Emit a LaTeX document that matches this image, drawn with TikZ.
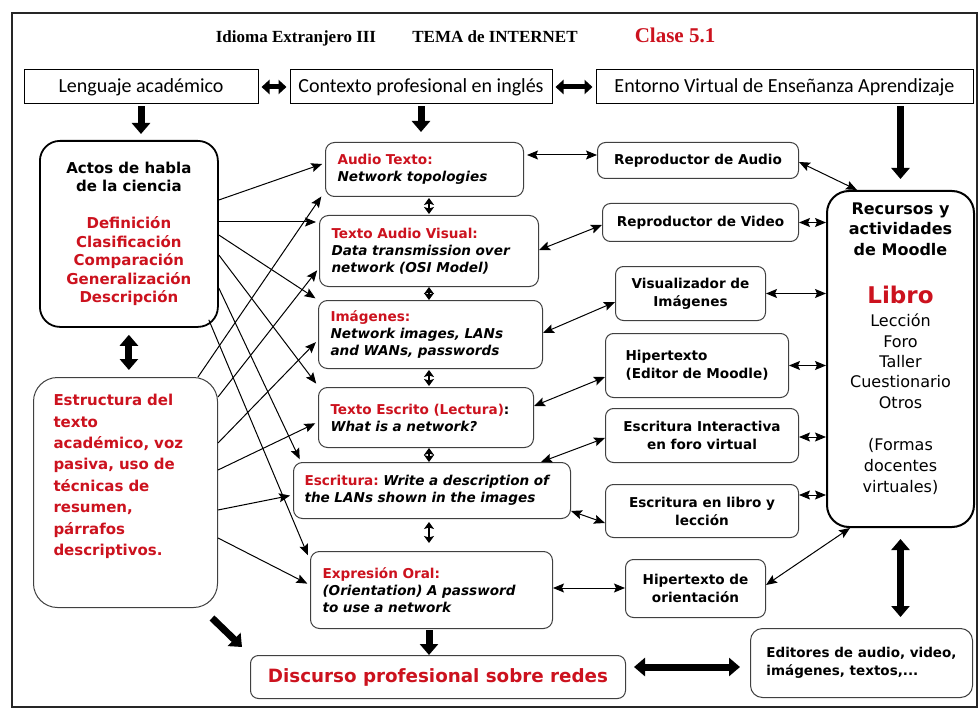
\documentclass[tikz,border=0pt]{standalone}
\usepackage{fontspec}
\setmainfont{DejaVu Sans}[ItalicFont={DejaVu Sans Oblique},BoldFont={DejaVu Sans Bold},BoldItalicFont={DejaVu Sans Bold Oblique}]
\newfontfamily\calfont{Carlito}
\newfontfamily\timfont{Liberation Serif}
\usetikzlibrary{arrows.meta}
\definecolor{mred}{RGB}{204,18,30}
\begin{document}
\begin{tikzpicture}[x=1pt,y=-1pt,
  topbox/.style={draw=black, line width=1pt, minimum height=34pt, inner sep=0pt, font=\calfont\fontsize{20}{22}\selectfont},
  mid/.style={draw=black!75, line width=1pt, rounded corners=9pt, anchor=north west, align=left, inner xsep=12pt, inner ysep=0pt, font=\bfseries\fontsize{13.6}{17}\selectfont},
  rbox/.style={draw=black!75, line width=1pt, rounded corners=8pt, anchor=north west, align=center, inner sep=0pt, font=\bfseries\fontsize{13.6}{18}\selectfont},
  tarr/.style={line width=1pt, -{Stealth[length=11pt,width=9pt,inset=2pt]}, shorten >=3pt},
  tdbl/.style={line width=1pt, {Stealth[length=11pt,width=9pt,inset=2pt]}-{Stealth[length=11pt,width=9pt,inset=2pt]}},
  vdbl/.style={line width=1.2pt, {Stealth[length=7pt,width=10pt,inset=1.5pt]}-{Stealth[length=7pt,width=10pt,inset=1.5pt]}},
  karr/.style={line width=7pt, -{Triangle[length=11pt,width=18pt]}},
  kdbl/.style={line width=7pt, {Triangle[length=11pt,width=18pt]}-{Triangle[length=11pt,width=18pt]}},
  sdbl/.style={line width=5pt, {Triangle[length=8pt,width=14pt]}-{Triangle[length=8pt,width=14pt]}},
  rl/.style={anchor=base, font=\fontsize{16}{20}\selectfont}
]
\useasboundingbox (0,0) rectangle (979,711);
\fill[white] (0,0) rectangle (979,711);
\draw[line width=1.3pt, black!85] (12,13) rectangle (977,707);

% title
\node[anchor=base, font=\timfont\bfseries\fontsize{17}{20}\selectfont] (t1) at (296,43) {Idioma Extranjero III};
\node[anchor=base, font=\timfont\bfseries\fontsize{17}{20}\selectfont] (t2) at (495,43) {TEMA de INTERNET};
\node[anchor=base, font=\timfont\bfseries\fontsize{21}{24}\selectfont, text=mred] (t3) at (675,43) {Clase 5.1};

% top boxes
\node[topbox, minimum width=234pt] (leng) at (141,87) {Lenguaje académico};
\node[topbox, minimum width=262pt] (ctx) at (421,87) {Contexto profesional en inglés};
\node[topbox, minimum width=377pt] (ent) at (784.5,87) {Entorno Virtual de Enseñanza Aprendizaje};

% left boxes
\node[draw=black, line width=1.8pt, rounded corners=20pt, anchor=north west, minimum width=178pt, minimum height=186pt, align=center, inner sep=0pt, font=\bfseries\fontsize{15}{18.5}\selectfont] (actos) at (39,140)
 {Actos de habla\\de la ciencia\\[18.5pt]\textcolor{mred}{Definición}\\\textcolor{mred}{Clasificación}\\\textcolor{mred}{Comparación}\\\textcolor{mred}{Generalización}\\\textcolor{mred}{Descripción}};
\node[draw=black!75, line width=1pt, rounded corners=24pt, anchor=north west, text width=144pt, inner xsep=20pt, inner ysep=0pt, minimum height=230pt, align=left, text=mred, font=\bfseries\fontsize{15}{21.4}\selectfont] (estr) at (33,377)
 {Estructura del\\texto\\académico, voz\\pasiva, uso de\\técnicas de\\resumen,\\párrafos\\descriptivos.\\[14pt]\mbox{}};

% middle boxes
\node[mid, text width=174pt, minimum height=54pt] (audio) at (325,142) {\textcolor{mred}{Audio Texto:}\\\textit{Network topologies}};
\node[mid, text width=195pt, minimum height=71pt] (tav) at (319,215) {\textcolor{mred}{Texto Audio Visual:}\\\textit{Data transmission over}\\\textit{network (OSI Model)}};
\node[mid, text width=200pt, minimum height=68pt] (imag) at (318,300) {\textcolor{mred}{Imágenes:}\\\textit{Network images, LANs}\\\textit{and WANs, passwords}};
\node[mid, text width=191pt, minimum height=60pt] (te) at (318,387) {\textcolor{mred}{Texto Escrito (Lectura)}:\\\textit{What is a network?}};
\node[mid, text width=255pt, inner xsep=11pt, minimum height=56pt] (esc) at (293,462) {\textcolor{mred}{Escritura:}~\textit{Write a description of}\\\textit{the LANs shown in the images}};
\node[mid, text width=218pt, minimum height=77pt] (expr) at (310,551) {\textcolor{mred}{Expresión Oral:}\\\textit{(Orientation) A password}\\\textit{to use a network}};
\node[draw=black!75, line width=1pt, rounded corners=8pt, anchor=north west, minimum width=375pt, minimum height=43pt, inner sep=0pt, text=mred, font=\bfseries\fontsize{18.3}{22}\selectfont] (disc) at (250,655) {Discurso profesional sobre redes};

% right boxes
\node[rbox, minimum width=201pt, minimum height=36pt] (raud) at (597,142) {Reproductor de Audio};
\node[rbox, minimum width=196pt, minimum height=38pt] (rvid) at (602,203) {Reproductor de Video};
\node[rbox, minimum width=150pt, minimum height=54pt] (vis) at (615,266) {Visualizador de\\Imágenes};
\node[rbox, align=left, minimum width=183pt, minimum height=64pt] (hip) at (605,333) {Hipertexto\\(Editor de Moodle)};
\node[rbox, minimum width=193pt, minimum height=54pt] (eint) at (605,408) {Escritura Interactiva\\en foro virtual};
\node[rbox, minimum width=193pt, minimum height=53pt] (elib) at (605,484) {Escritura en libro y\\lección};
\node[rbox, minimum width=140pt, minimum height=58pt] (hor) at (625,559) {Hipertexto de\\orientación};
\node[rbox, align=left, rounded corners=12pt, minimum width=222pt, minimum height=69pt, font=\bfseries\fontsize{13.5}{18}\selectfont] (edit) at (750,628) {Editores de audio, video,\\imágenes, textos,...};

% Recursos box
\node[draw=black, line width=2pt, rounded corners=22pt, anchor=north west, minimum width=147pt, minimum height=336pt, inner sep=0pt] (rec) at (826,190) {};
\node[rl, font=\bfseries\fontsize{16}{20}\selectfont] (r1) at (rec.center |- 0,215) {Recursos y};
\node[rl, font=\bfseries\fontsize{16}{20}\selectfont] (r2) at (rec.center |- 0,235) {actividades};
\node[rl, font=\bfseries\fontsize{16}{20}\selectfont] (r3) at (rec.center |- 0,255) {de Moodle};
\node[rl, text=mred, font=\bfseries\fontsize{23}{26}\selectfont] (r4) at (rec.center |- 0,303) {Libro};
\node[rl] (r5) at (rec.center |- 0,326) {Lección};
\node[rl] (r6) at (rec.center |- 0,347) {Foro};
\node[rl] (r7) at (rec.center |- 0,367) {Taller};
\node[rl] (r8) at (rec.center |- 0,387) {Cuestionario};
\node[rl] (r9) at (rec.center |- 0,408) {Otros};
\node[rl] (r10) at (rec.center |- 0,450) {(Formas};
\node[rl] (r11) at (rec.center |- 0,471) {docentes};
\node[rl] (r12) at (rec.center |- 0,492) {virtuales)};

\coordinate (mx) at (429,0);

% thick arrows
\draw[sdbl, shorten <=3pt, shorten >=3pt] (leng.east) -- (ctx.west);
\draw[sdbl, shorten <=3pt, shorten >=3pt] (ctx.east) -- (ent.west);
\draw[karr, shorten <=2pt, shorten >=6pt] (leng.south) -- (leng.south |- actos.north);
\draw[karr, shorten <=2pt, shorten >=10pt] (ctx.south) -- (ctx.south |- audio.north);
\draw[karr, shorten <=2pt, shorten >=11pt] (rec.north |- ent.south) -- (rec.north);
\draw[kdbl, shorten <=7pt, shorten >=7pt] (actos.south) -- (actos.south |- estr.north);
\draw[karr] ([xshift=-6pt,yshift=-10pt]estr.south east) -- ([xshift=-8pt,yshift=8pt]disc.north west);
\draw[karr, shorten <=1pt] (expr.south -| mx) -- (disc.north -| mx);
\draw[kdbl, shorten <=8pt, shorten >=10pt] (disc.east |- 0,667) -- (edit.west |- 0,667);
\draw[kdbl, shorten <=11pt, shorten >=11pt] (rec.south) -- (rec.south |- edit.north);

% vertical small double arrows in the middle column
\draw[vdbl, shorten <=1pt, shorten >=1pt] (audio.south -| mx) -- (tav.north -| mx);
\draw[vdbl, shorten <=0pt, shorten >=0pt] (tav.south -| mx) -- (imag.north -| mx);
\draw[vdbl, shorten <=1pt, shorten >=1pt] (imag.south -| mx) -- (te.north -| mx);
\draw[vdbl, shorten <=0pt, shorten >=0pt] (te.south -| mx) -- (esc.north -| mx);
\draw[vdbl, shorten <=3pt, shorten >=8pt] (esc.south -| mx) -- (expr.north -| mx);

% left to middle
\draw[tarr] (actos.east |- 0,200) -- (audio.west |- 0,163);
\draw[tarr] (actos.east |- 0,222) -- (tav.west |- 0,222);
\draw[tarr] (actos.east |- 0,235) -- (imag.west |- 0,300);
\draw[tarr] (actos.east |- 0,255) -- (te.west |- 0,386);
\draw[tarr] (actos.east |- 0,288) -- ([xshift=8pt]esc.north west);
\draw[tarr] ([xshift=-10pt,yshift=8pt]actos.south east) -- ([xshift=-1pt,yshift=-7pt]expr.north west);
\draw[tarr] ([xshift=-20pt]estr.north east) -- ([xshift=-2pt,yshift=3pt]audio.south west);
\draw[tarr] (estr.east |- 0,397) -- (tav.west |- 0,268);
\draw[tarr] (estr.east |- 0,443) -- (imag.west |- 0,340);
\draw[tarr] (estr.east |- 0,470) -- (te.west |- 0,422);
\draw[tarr] (estr.east |- 0,510) -- (esc.west |- 0,495);
\draw[tarr] (estr.east |- 0,538) -- (expr.west |- 0,585);

% middle to right
\draw[tdbl, shorten <=3pt] (audio.east |- 0,155) -- (raud.west |- 0,155);
\draw[tdbl] (raud.east |- 0,162) -- ([xshift=31pt]rec.north west);
\draw[tdbl] (tav.east |- 0,250) -- (rvid.west |- 0,225);
\draw[tdbl] (imag.east |- 0,333) -- (vis.west |- 0,302);
\draw[tdbl] (te.east |- 0,406) -- (hip.west |- 0,377);
\draw[tdbl] ([xshift=-30pt]esc.north east) -- (eint.west |- 0,438);
\draw[tdbl] (esc.east |- 0,511) -- (elib.west |- 0,523);
\draw[tdbl] (expr.east |- 0,588) -- (hor.west |- 0,588);
\draw[tdbl] (hor.east |- 0,585) -- ([xshift=24pt]rec.south west);

% right to Recursos
\draw[tdbl] (rvid.east) -- (rec.west |- rvid.east);
\draw[tdbl] (vis.east) -- (rec.west |- vis.east);
\draw[tdbl] (hip.east) -- (rec.west |- hip.east);
\draw[tdbl] (eint.east |- 0,437) -- (rec.west |- 0,437);
\draw[tdbl] (elib.east |- 0,495) -- (rec.west |- 0,495);
\end{tikzpicture}
\end{document}
